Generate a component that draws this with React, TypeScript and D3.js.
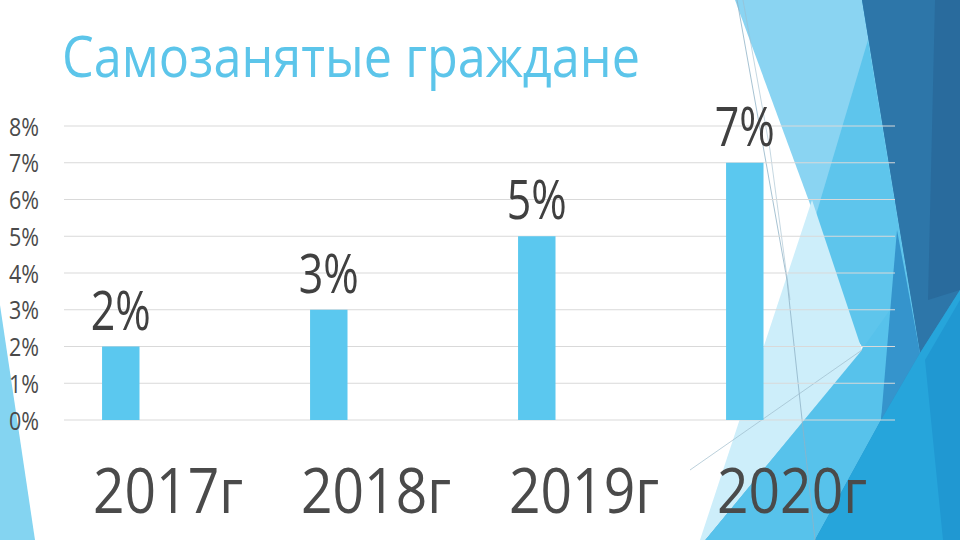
import React from "react";
import * as d3 from "d3";

const categories = ["2017г", "2018г", "2019г", "2020г"];
const values = [2, 3, 5, 7];
const valueLabels = ["2%", "3%", "5%", "7%"];
const yTicks = [0, 1, 2, 3, 4, 5, 6, 7, 8];
const title = "Самозанятые граждане";

const W = 960;
const H = 540;

const bgShapes: { pts: [number, number][]; fill: string }[] = [
  { pts: [[0, 305], [35, 540], [0, 540]], fill: "#84d4f1" },
  { pts: [[862, 0], [960, 0], [960, 540], [705, 540], [863, 348]], fill: "#2a8fc6" },
  { pts: [[735, 0], [862, 0], [920, 353], [863, 348]], fill: "#8ad4f2" },
  { pts: [[868, 40], [920, 353], [863, 348], [802, 262]], fill: "#5ec5ec" },
  { pts: [[862, 0], [960, 0], [960, 290], [920, 353]], fill: "#2d76a9" },
  { pts: [[935, 0], [960, 0], [960, 290], [928, 300]], fill: "#296b9d" },
  { pts: [[863, 348], [897, 300], [881, 420], [815, 540], [705, 540]], fill: "#57c2eb" },
  { pts: [[812, 200], [862, 350], [705, 540], [700, 540]], fill: "#cdeefa" },
  { pts: [[897, 230], [920, 353], [881, 420]], fill: "#3594cc" },
  { pts: [[920, 353], [960, 290], [960, 540], [815, 540], [881, 420]], fill: "#26a5db" },
  { pts: [[960, 300], [960, 540], [943, 540], [925, 360]], fill: "#2098d2" },
];

export default function App() {
  const x = d3.scaleBand<string>().domain(categories).range([64, 896]).padding(0);
  const y = d3.scaleLinear().domain([0, 8]).range([420, 126]);
  const bw = x.bandwidth();
  const barW = bw * 0.18;
  const barOff = bw * 0.183;
  const fontFam = "'Open Sans', 'DejaVu Sans', sans-serif";

  return (
    <svg width={W} height={H} style={{ position: "absolute", left: 0, top: 0, background: "#fff" }}>
      <rect x={0} y={0} width={W} height={H} fill="#ffffff" />
      {bgShapes.map((s, i) => (
        <polygon key={i} points={s.pts.map((p) => p.join(",")).join(" ")} fill={s.fill} />
      ))}
      <polyline points="737,0 787,280 815,540" fill="none" stroke="#8fb3c6" strokeWidth={0.8} />
      <polyline points="743,0 770,150 790,300" fill="none" stroke="#9dbccc" strokeWidth={0.6} />
      <line x1={690} y1={470} x2={862} y2={350} stroke="#9dbccc" strokeWidth={0.7} />

      <text x={62} y={77} fill="#5cc5ea" fontFamily={fontFam} fontSize={56} textLength={578} lengthAdjust="spacingAndGlyphs">
        {title}
      </text>

      {yTicks.map((t) => (
        <g key={t}>
          <line x1={64} x2={895} y1={y(t)} y2={y(t)} stroke="#d9d9d9" strokeWidth={1} />
          <text x={39} y={y(t) + 9.5} textAnchor="end" fill="#4a4a4a" fontFamily={fontFam} fontSize={26} textLength={30} lengthAdjust="spacingAndGlyphs">
            {t + "%"}
          </text>
        </g>
      ))}

      {categories.map((c, i) => {
        const bx = (x(c) as number) + barOff;
        return (
          <g key={c}>
            <rect x={bx} y={y(values[i])} width={barW} height={y(0) - y(values[i])} fill="#5bc8ef" />
            <text x={bx + barW / 2} y={y(values[i]) - 17} textAnchor="middle" fill="#404040" fontFamily={fontFam} fontSize={54} textLength={60} lengthAdjust="spacingAndGlyphs">
              {valueLabels[i]}
            </text>
            <text x={(x(c) as number) + bw / 2} y={513} textAnchor="middle" fill="#4a4a4a" fontFamily={fontFam} fontSize={62} textLength={150} lengthAdjust="spacingAndGlyphs">
              {c}
            </text>
          </g>
        );
      })}
    </svg>
  );
}
